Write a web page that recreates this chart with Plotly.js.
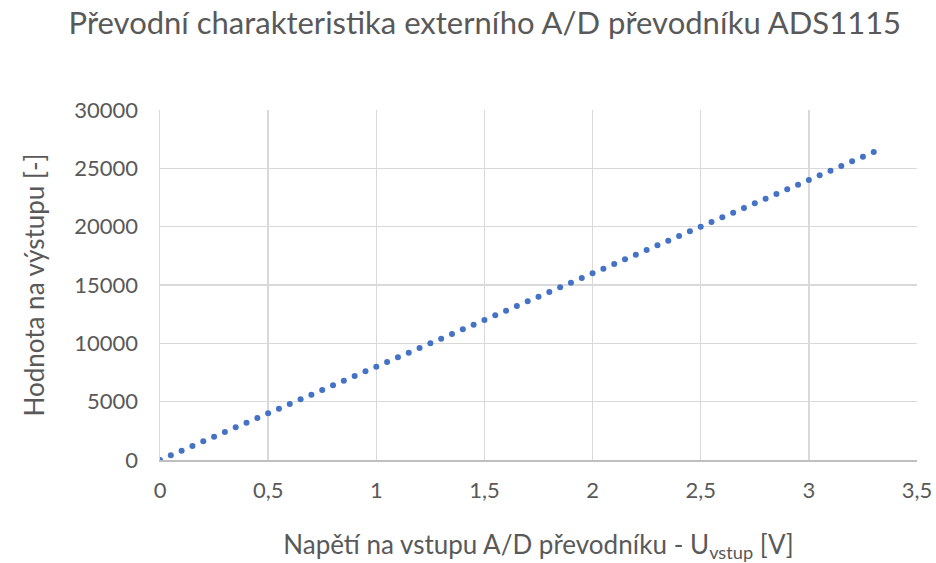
<!DOCTYPE html>
<html>
<head>
<meta charset="utf-8">
<script src="https://cdn.plot.ly/plotly-3.0.1.min.js"></script>
<style>html,body{margin:0;padding:0;background:#fff;}#chart{width:936px;height:563px;}</style>
</head>
<body>
<div id="chart"></div>
<script>
const napeti = [0,0.05,0.1,0.15,0.2,0.25,0.3,0.35,0.4,0.45,0.5,0.55,0.6,0.65,0.7,0.75,0.8,0.85,0.9,0.95,1,1.05,1.1,1.15,1.2,1.25,1.3,1.35,1.4,1.45,1.5,1.55,1.6,1.65,1.7,1.75,1.8,1.85,1.9,1.95,2,2.05,2.1,2.15,2.2,2.25,2.3,2.35,2.4,2.45,2.5,2.55,2.6,2.65,2.7,2.75,2.8,2.85,2.9,2.95,3,3.05,3.1,3.15,3.2,3.25,3.3];
const hodnota = [0,400,800,1200,1600,2000,2400,2800,3200,3600,4000,4400,4800,5200,5600,6000,6400,6800,7200,7600,8000,8400,8800,9200,9600,10000,10400,10800,11200,11600,12000,12400,12800,13200,13600,14000,14400,14800,15200,15600,16000,16400,16800,17200,17600,18000,18400,18800,19200,19600,20000,20400,20800,21200,21600,22000,22400,22800,23200,23600,24000,24400,24800,25200,25600,26000,26400];
const xTickVals = [0,0.5,1,1.5,2,2.5,3,3.5];
const xTickText = ["0","0,5","1","1,5","2","2,5","3","3,5"];
const yTickVals = [0,5000,10000,15000,20000,25000,30000];
const yTickText = ["0","5000","10000","15000","20000","25000","30000"];

const font = "Lato, 'Noto Sans', sans-serif";
const trace = {
  x: napeti, y: hodnota, type: 'scatter', mode: 'markers',
  marker: {color: '#4472C4', size: 6},
  hoverinfo: 'x+y'
};
const layout = {
  width: 936, height: 563,
  margin: {l: 160, r: 19, t: 110, b: 103},
  paper_bgcolor: '#fff', plot_bgcolor: '#fff',
  showlegend: false,
  font: {family: font, color: '#595959'},
  title: {text: 'Převodní charakteristika externího A/D převodníku ADS1115',
          font: {family: font, size: 31, color: '#595959'},
          x: 0.518, xref: 'container', xanchor: 'center', y: 0.958, yref: 'container', yanchor: 'middle'},
  xaxis: {
    range: [0, 3.5], tickvals: xTickVals, ticktext: xTickText,
    showgrid: true, gridcolor: '#d9d9d9', gridwidth: 1.5,
    zeroline: false, showline: true, linecolor: '#bfbfbf', linewidth: 2,
    ticks: '', tickfont: {size: 22, color: '#595959'}, ticklabelstandoff: 10,
    title: {text: 'Napětí na vstupu A/D převodníku - U<sub>vstup</sub> [V]',
            font: {size: 26, color: '#595959'}, standoff: 36}
  },
  yaxis: {
    range: [0, 30000], tickvals: yTickVals, ticktext: yTickText,
    showgrid: true, gridcolor: '#d9d9d9', gridwidth: 1.5,
    zeroline: false, showline: true, linecolor: '#d9d9d9', linewidth: 1.5,
    ticks: '', tickfont: {size: 22, color: '#595959'}, ticklabelstandoff: 16,
    title: {text: 'Hodnota na výstupu [-]', font: {size: 26, color: '#595959'}, standoff: 22}
  }
};
Plotly.newPlot('chart', [trace], layout, {displayModeBar: false, staticPlot: true});
</script>
</body>
</html>
